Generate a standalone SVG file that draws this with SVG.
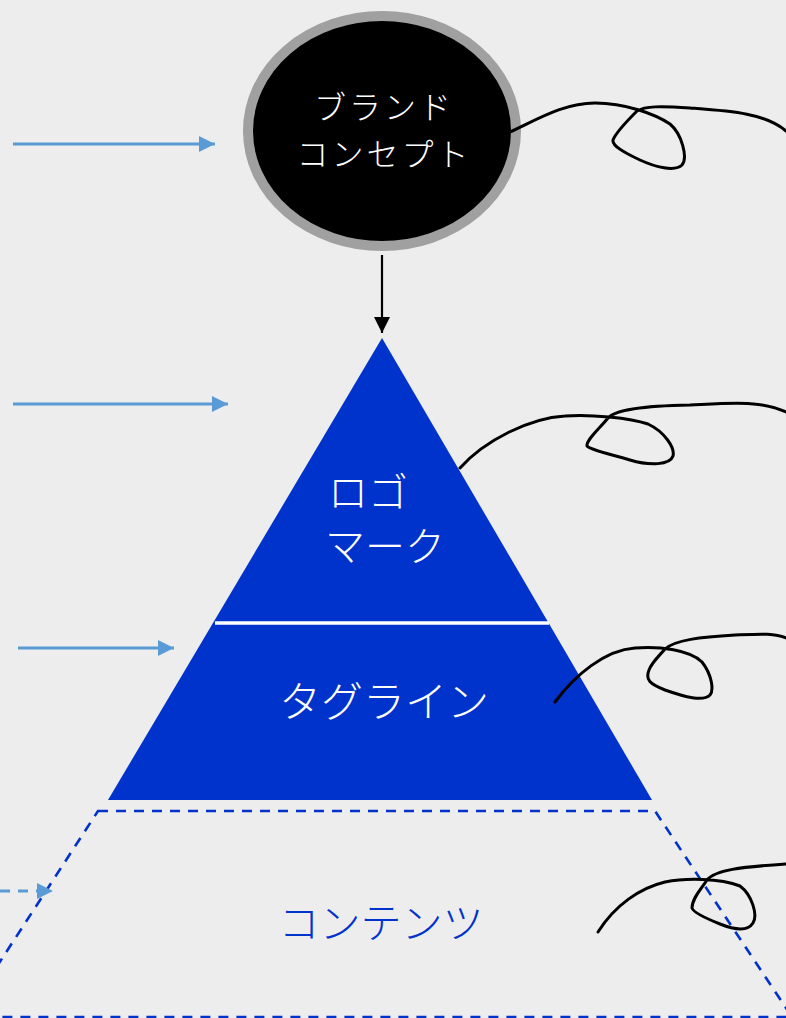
<svg xmlns="http://www.w3.org/2000/svg" width="786" height="1018" viewBox="0 0 786 1018">
<defs>
<style>
.jp{font-family:"Noto Sans CJK JP","Noto Sans CJK SC",sans-serif;font-weight:300}
.w{fill:#ffffff}
.loop{fill:none;stroke:#000;stroke-width:3;stroke-linecap:round;stroke-linejoin:round}
.in{stroke:#5b9bd5;stroke-width:3;fill:none}
</style>
<marker id="ab" markerWidth="16" markerHeight="16" viewBox="0 0 16 16" refX="16" refY="8" orient="auto" markerUnits="userSpaceOnUse"><path d="M0,0 L16,8 L0,16 Z" fill="#5b9bd5"/></marker>
<marker id="ak" markerWidth="16" markerHeight="16" viewBox="0 0 16 16" refX="16" refY="8" orient="auto" markerUnits="userSpaceOnUse"><path d="M0,0 L16,8 L0,16 Z" fill="#000"/></marker>
</defs>
<rect width="786" height="1018" fill="#ededed"/>
<g id="content">
<polygon points="98,811 655,811 792,1017 -36,1017" fill="none" stroke="#0033cc" stroke-width="2.6" stroke-dasharray="10,8"/>
<text class="jp" x="381" y="938" font-size="41" fill="#0033cc" text-anchor="middle">コンテンツ</text>
</g>
<g id="pyramid">
<polygon points="382,338 652,800 108,800" fill="#0033cc"/>
<line x1="215" y1="623" x2="549" y2="623" stroke="#fff" stroke-width="3.5"/>
</g>
<g id="logomark">
<text class="jp w" x="328" y="507" font-size="40">ロゴ</text>
<text class="jp w" x="325" y="561" font-size="40">マーク</text>
</g>
<g id="tagline">
<text class="jp w" x="384" y="717" font-size="42" text-anchor="middle">タグライン</text>
</g>
<g id="concept">
<ellipse cx="382" cy="131" rx="134" ry="115" fill="#000" stroke="#a0a0a0" stroke-width="10"/>
<text class="jp w" x="384" y="119" font-size="32" letter-spacing="3" text-anchor="middle">ブランド</text>
<text class="jp w" x="384" y="166" font-size="32" letter-spacing="3" text-anchor="middle">コンセプト</text>
</g>
<g id="connectors">
<line x1="382" y1="255" x2="382" y2="333" stroke="#000" stroke-width="2.2" marker-end="url(#ak)"/>
<line class="in" x1="13" y1="144" x2="215" y2="144" marker-end="url(#ab)"/>
<line class="in" x1="13" y1="404" x2="228" y2="404" marker-end="url(#ab)"/>
<line class="in" x1="18" y1="648" x2="174" y2="648" marker-end="url(#ab)"/>
<line class="in" x1="0" y1="891" x2="53" y2="891" stroke-dasharray="10,8" marker-end="url(#ab)"/>
<path class="loop" d="M510,132 C540,118 565,103 595,103 C625,103 655,114 670,124 C682,134 688,158 682,165 C675,172 655,167 640,160 C625,153 612,146 613,140 C616,132 630,118 637,111 C645,106 660,106 690,108 C730,111 765,113 786,131"/>
<path class="loop" d="M460,468 C485,440 530,418 565,416 C590,414 630,418 648,424 C665,432 675,448 673,456 C670,465 650,466 630,460 C610,454 590,450 587,446 C586,440 600,428 608,418 C615,410 640,406 690,405 C730,403 760,400 786,412"/>
<path class="loop" d="M555,702 C575,675 605,650 635,648 C660,646 690,650 702,662 C712,675 714,690 710,695 C703,702 685,697 665,690 C650,684 645,680 649,670 C652,662 660,655 665,649 C675,640 700,637 735,635 C760,634 775,633 786,638"/>
<path class="loop" d="M598,932 C615,905 640,888 665,882 C685,878 720,878 740,886 C752,895 758,915 753,923 C748,931 735,930 720,924 C705,918 693,912 692,908 C692,898 702,888 707,880 C715,870 740,867 786,864"/>
</g>
</svg>
